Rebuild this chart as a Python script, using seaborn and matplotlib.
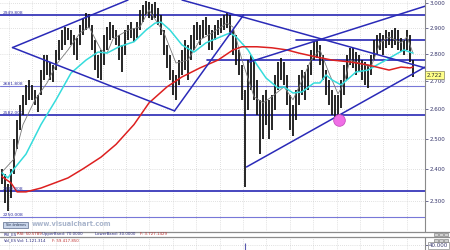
import numpy as np
import pandas as pd
import matplotlib
matplotlib.use("Agg")
import matplotlib.pyplot as plt
import matplotlib.transforms as mtrans
from matplotlib.lines import Line2D
from matplotlib.patches import Rectangle
import matplotlib.ticker as mticker
import seaborn as sns

# ---------------- data ----------------
bar_high = [2401, 2385, 2354, 2401, 2498, 2565, 2616, 2651, 2687, 2705,
            2687, 2669, 2651, 2741, 2797, 2797, 2771, 2760, 2816, 2854,
            2892, 2904, 2900, 2892, 2873, 2862, 2912, 2939, 2959, 2955,
            2912, 2854, 2797, 2816, 2873, 2904, 2923, 2912, 2892, 2873,
            2835, 2892, 2912, 2923, 2900, 2923, 2971, 2991, 3007, 3003,
            2995, 3003, 2979, 2951, 2892, 2835, 2797, 2741, 2723, 2778,
            2816, 2854, 2835, 2873, 2912, 2923, 2912, 2931, 2943, 2912,
            2892, 2912, 2931, 2939, 2951, 2959, 2951, 2892, 2873, 2816,
            2760, 2669, 2778, 2797, 2778, 2705, 2634, 2651, 2669, 2634,
            2651, 2723, 2771, 2786, 2771, 2723, 2651, 2616, 2669, 2723,
            2741, 2734, 2760, 2816, 2847, 2854, 2835, 2797, 2741, 2705,
            2669, 2651, 2651, 2705, 2760, 2797, 2824, 2824, 2808, 2797,
            2778, 2771, 2760, 2797, 2854, 2873, 2881, 2873, 2892, 2885,
            2892, 2900, 2892, 2862, 2854, 2892, 2873, 2778]
bar_low = [2354, 2294, 2270, 2309, 2385, 2465, 2531, 2582, 2616, 2634,
           2634, 2616, 2592, 2651, 2705, 2723, 2705, 2698, 2741, 2778,
           2816, 2835, 2854, 2835, 2797, 2778, 2835, 2873, 2892, 2900,
           2816, 2741, 2712, 2705, 2760, 2816, 2854, 2862, 2835, 2778,
           2734, 2797, 2854, 2862, 2847, 2862, 2892, 2923, 2951, 2939,
           2931, 2939, 2912, 2873, 2797, 2749, 2705, 2651, 2634, 2687,
           2723, 2741, 2705, 2778, 2816, 2854, 2835, 2862, 2873, 2816,
           2816, 2854, 2873, 2881, 2892, 2900, 2873, 2797, 2760, 2723,
           2634, 2342, 2599, 2669, 2634, 2582, 2449, 2498, 2548, 2498,
           2531, 2599, 2669, 2705, 2687, 2616, 2531, 2508, 2565, 2616,
           2651, 2634, 2669, 2723, 2778, 2786, 2760, 2705, 2651, 2616,
           2582, 2565, 2572, 2606, 2651, 2705, 2760, 2749, 2723, 2734,
           2705, 2687, 2676, 2723, 2778, 2797, 2816, 2797, 2824, 2835,
           2824, 2835, 2816, 2808, 2797, 2816, 2771, 2716]

ma200_day = [0, 3, 5, 8, 13, 17, 22, 27, 33, 38, 44, 49, 55, 60, 66, 72, 77, 80,
             85, 90, 95, 99, 105, 110, 116, 122, 126, 129, 133, 136, 137]
ma200_val = [2376, 2356, 2328, 2328, 2340, 2354, 2372, 2401, 2439, 2481, 2548,
             2623, 2680, 2716, 2749, 2778, 2816, 2828, 2828, 2824, 2816, 2804,
             2789, 2778, 2771, 2760, 2749, 2741, 2752, 2749, 2752]

ma50_day = [0, 2, 4, 8, 13, 18, 23, 28, 32, 35, 39, 44, 48, 51, 53, 56, 60, 64,
            68, 72, 76, 78, 82, 85, 88, 92, 94, 97, 100, 104, 106, 108, 110,
            113, 115, 118, 122, 125, 128, 132, 134, 136, 137]
ma50_val = [2388, 2372, 2401, 2449, 2548, 2634, 2730, 2778, 2808, 2804, 2828,
            2847, 2892, 2919, 2923, 2892, 2835, 2808, 2843, 2862, 2881, 2866,
            2816, 2760, 2712, 2676, 2680, 2658, 2662, 2694, 2694, 2723, 2705,
            2687, 2705, 2734, 2741, 2760, 2778, 2804, 2816, 2808, 2804]

ma20_day = [0, 4, 7, 11, 15, 18, 22, 26, 29, 33, 35, 37, 42, 46, 49, 54, 58, 62,
            66, 70, 75, 77, 80, 84, 87, 90, 94, 97, 99, 103, 106, 109, 112,
            114, 116, 119, 123, 126, 129, 133, 135, 137]
ma20_val = [2391, 2433, 2548, 2634, 2694, 2760, 2816, 2881, 2904, 2816, 2804,
            2858, 2892, 2904, 2971, 2881, 2767, 2778, 2854, 2881, 2919, 2904,
            2778, 2645, 2623, 2645, 2680, 2634, 2680, 2778, 2816, 2730, 2655,
            2694, 2778, 2767, 2752, 2843, 2866, 2843, 2866, 2804]

# trend lines: (day0, value0, day1, value1)
trend_lines = [(3.5, 2825, 42.0, 3011),
               (3.5, 2825, 57.5, 2595),
               (57.5, 2595, 80.5, 2951),
               (60.0, 3011, 141.0, 2749),
               (82.5, 2771, 141.0, 2986),
               (81.5, 2407, 141.0, 2752)]

levels = [2949.808, 2681.808, 2582.000, 2330.008, 2250.008]
level_strong = [True, False, True, True, False]
partial_levels = [2854, 2778]
partial_start = [98.0, 68.3]

marker_day = [112.3]
marker_val = [2565]

last_price = 2722
yticks_vals = [2300, 2400, 2500, 2600, 2700, 2800, 2900, 3000]

vol_day = [81]
vol_val = [56000]

# ---------------- figure ----------------
sns.set_style("white")
plt.rcParams['font.family'] = ['DejaVu Sans']

W, H = 450, 250
fig = plt.figure(figsize=(4.5, 2.5), dpi=100)
fig.patch.set_facecolor("white")

def fx(px):
    return px / W

def fy(py):
    return 1 - py / H

ax = fig.add_axes([0, fy(231), fx(425), 231 / H])
ax.set_yscale('log')
ax.set_ylim(2209, 3011)
ax.set_xlim(-0.67, 141)

# grid
ax.set_xticks(np.arange(2.33, 141, 7.8))
ax.xaxis.set_major_formatter(mticker.NullFormatter())
ax.tick_params(axis='x', length=0)
ax.yaxis.tick_right()
ax.set_yticks(yticks_vals)
ax.yaxis.set_minor_locator(mticker.NullLocator())
ax.set_yticklabels([f"{v/1000:.3f}" for v in yticks_vals])
ax.tick_params(axis='y', labelsize=4, colors='#34346a', length=2, pad=1, width=0.5)
ax.grid(True, ls=(0, (1, 2)), color='#c4c4c4', lw=0.5)
for s in ['top', 'left', 'bottom']:
    ax.spines[s].set_visible(False)
ax.spines['right'].set_color('#8a8a8a')
ax.spines['right'].set_linewidth(0.8)

blend = mtrans.blended_transform_factory(ax.transAxes, ax.transData)

# horizontal levels
for v, strong in zip(levels, level_strong):
    ax.axhline(v, color='#2828b4' if strong else '#7878d8',
               lw=1.2 if strong else 0.8, zorder=2)
    ax.text(0.006, v, f"{v:.3f}", transform=blend, fontsize=3.2,
            color='#3030a0', va='bottom', ha='left', zorder=6)
    
for v, d0 in zip(partial_levels, partial_start):
    ax.plot([d0, 141], [v, v], color='#2828b4', lw=1.2, zorder=2)

# candles
days = np.arange(len(bar_high))
ax.vlines(days, bar_low, bar_high, color='#151515', lw=1.3, zorder=3)

# moving averages
sns.lineplot(x=ma20_day, y=ma20_val, ax=ax, color='#7a7a7a', lw=0.6,
             sort=False, estimator=None, zorder=4)
sns.lineplot(x=ma50_day, y=ma50_val, ax=ax, color='#35dcdc', lw=1.1,
             sort=False, estimator=None, zorder=4)
sns.lineplot(x=ma200_day, y=ma200_val, ax=ax, color='#dd2020', lw=1.1,
             sort=False, estimator=None, zorder=4)

# trend lines
for d0, v0, d1, v1 in trend_lines:
    ax.plot([d0, d1], [v0, v1], color='#2a2ab8', lw=1.1, zorder=5)

# marker
ax.scatter(marker_day, marker_val, s=70, color='#f06ee6', edgecolor='#c850c0',
           lw=0.6, zorder=7)

# last price label
ax.text(1.004, last_price, f"{last_price/1000:.3f}", transform=blend,
        fontsize=4, va='center', ha='left', color='#303030',
        bbox=dict(boxstyle='square,pad=0.25', fc='#ffff88', ec='#8a8a60', lw=0.5),
        clip_on=False, zorder=8)

# footer inside price panel
fig.patches.append(Rectangle((fx(3), fy(228)), fx(25), 6 / H, transform=fig.transFigure,
                             fc='#c9d5ea', ec='#5a6a8a', lw=0.5))
fig.text(fx(15.5), fy(225), "Sin órdenes", fontsize=2.4, color='#203050',
         ha='center', va='center')
fig.text(fx(32), fy(224.5), "www.visualchart.com", fontsize=4.8, color='#a9b5cc',
         ha='left', va='center', weight='bold')

# panel separators and indicator captions
fig.add_artist(Line2D([0, 1], [fy(231.5)] * 2, color='#8c8c8c', lw=0.9))
fig.add_artist(Line2D([0, 1], [fy(237.3)] * 2, color='#8c8c8c', lw=0.9))

def caption(pieces, y):
    for x, txt, col in pieces:
        fig.text(fx(x), fy(y), txt, fontsize=2.8, color=col, ha='left', va='center')

caption([(4, "RSI_ES", '#2a2a80'), (17, "RSI: 50.5789", '#b02020'),
         (42, "UpperBand: 70.0000", '#2a2a80'), (95, "LowerBand: 30.0000", '#2a2a80'),
         (140, "F: 3.727.1429", '#c03030')], 234.4)
caption([(4, "Vol_ES", '#2a2a80'), (17, "Vol: 1.121.314", '#2a2a80'),
         (52, "F: 59.417.850", '#c03030')], 240.6)

# window buttons
for yb in (232.5, 238.5):
    for xb in (434, 439, 444):
        fig.patches.append(Rectangle((fx(xb), fy(yb + 3.5)), fx(4), 3.5 / H,
                                     transform=fig.transFigure, fc='#d0d0d0',
                                     ec='#707070', lw=0.4))

# volume panel
axv = fig.add_axes([0, 0, fx(425), 12 / H])
axv.set_xlim(-0.67, 141)
axv.set_ylim(0, 96000)
axv.set_xticks(np.arange(2.33, 141, 7.8))
axv.xaxis.set_major_formatter(mticker.NullFormatter())
axv.tick_params(axis='x', length=0)
axv.yaxis.tick_right()
axv.set_yticks([40000])
axv.set_yticklabels(["40.000"])
axv.tick_params(axis='y', labelsize=4, colors='#34346a', length=2, pad=1, width=0.5)
for lab in axv.get_yticklabels():
    lab.set_bbox(dict(boxstyle='square,pad=0.15', fc='white', ec='#8a8a8a', lw=0.5))
axv.grid(True, ls=(0, (1, 2)), color='#c4c4c4', lw=0.5)
for s in ['top', 'left', 'bottom']:
    axv.spines[s].set_visible(False)
axv.spines['right'].set_color('#8a8a8a')
axv.vlines(vol_day, 0, vol_val, color='#5a5ab0', lw=0.8)

fig.savefig("out.png", dpi=100)
